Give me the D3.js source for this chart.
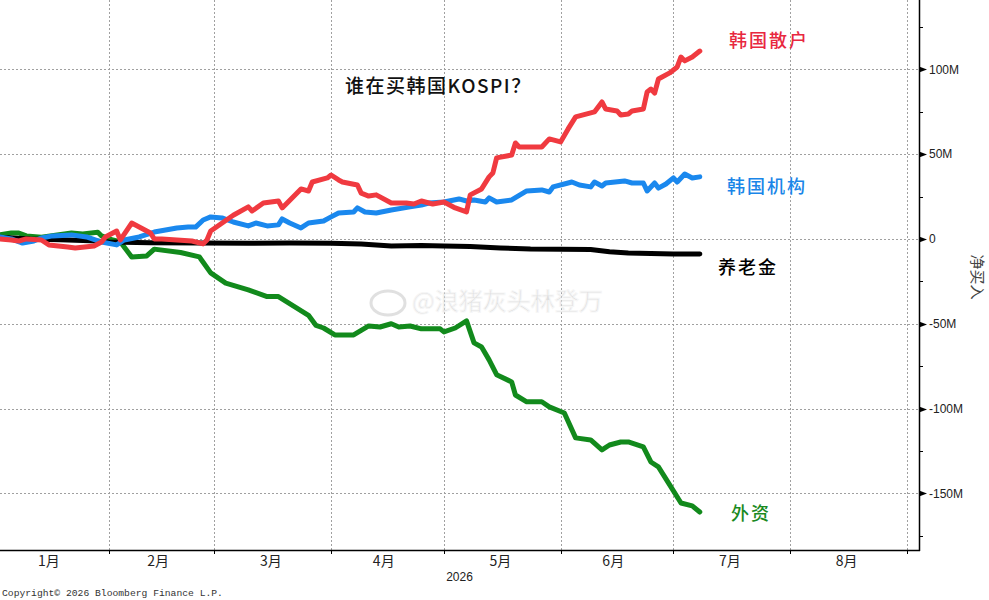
<!DOCTYPE html>
<html>
<head>
<meta charset="utf-8">
<script src="https://cdn.jsdelivr.net/npm/d3@7"></script>
<style>
  body { margin: 0; background: #fff; }
</style>
</head>
<body>
<div id="chart"></div>
<script>
// net buying of KOSPI stocks, millions
const retailDates = ['2026-01-03','2026-01-06','2026-01-08','2026-01-10','2026-01-14','2026-01-16','2026-01-21','2026-01-23','2026-01-28','2026-01-30','2026-01-31','2026-02-03','2026-02-04','2026-02-07','2026-02-10','2026-02-12','2026-02-13','2026-02-15','2026-02-23','2026-02-26','2026-02-27','2026-02-28','2026-03-06','2026-03-10','2026-03-11','2026-03-14','2026-03-18','2026-03-19','2026-03-24','2026-03-26','2026-03-27','2026-03-31','2026-04-01','2026-04-03','2026-04-04','2026-04-08','2026-04-09','2026-04-11','2026-04-13','2026-04-17','2026-04-21','2026-04-23','2026-04-25','2026-04-28','2026-05-01','2026-05-04','2026-05-07','2026-05-08','2026-05-11','2026-05-13','2026-05-14','2026-05-15','2026-05-19','2026-05-20','2026-05-21','2026-05-27','2026-05-29','2026-06-01','2026-06-03','2026-06-05','2026-06-10','2026-06-12','2026-06-13','2026-06-16','2026-06-17','2026-06-19','2026-06-20','2026-06-23','2026-06-24','2026-06-25','2026-06-26','2026-06-27','2026-06-30','2026-07-02','2026-07-03','2026-07-04','2026-07-06','2026-07-08'];
const retailValues = [0,-0.6,-1.2,0,-0.6,-3.5,-4.7,-5.3,-4.1,-1.8,1.2,4.7,-0.6,9.4,5.9,3.5,0,0,-1.2,-2.9,-0.6,4.7,14,18.9,16.5,21.2,22.4,18.3,29.5,28.3,33.6,36,37.7,34.8,33.6,31.8,27,25.3,26,21.2,21.2,20.6,22.4,20.6,21.8,18.3,16,26,29.5,36.6,38.9,47.8,49.5,56.6,54.2,54.2,59,57.2,64.9,72,74.9,80.8,76.6,75.5,73.1,73.7,75.5,76.6,86.7,88.4,86,94.3,97.9,101.4,107.3,105,107.3,110.8];

const instDates = ['2026-01-03','2026-01-06','2026-01-09','2026-01-12','2026-01-14','2026-01-17','2026-01-22','2026-01-26','2026-01-30','2026-02-03','2026-02-05','2026-02-09','2026-02-13','2026-02-19','2026-02-22','2026-02-24','2026-02-26','2026-02-28','2026-03-03','2026-03-06','2026-03-10','2026-03-12','2026-03-15','2026-03-18','2026-03-19','2026-03-21','2026-03-24','2026-03-26','2026-03-30','2026-04-01','2026-04-03','2026-04-05','2026-04-07','2026-04-08','2026-04-10','2026-04-13','2026-04-17','2026-04-22','2026-04-25','2026-04-27','2026-05-01','2026-05-05','2026-05-07','2026-05-09','2026-05-12','2026-05-13','2026-05-15','2026-05-19','2026-05-23','2026-05-27','2026-05-29','2026-05-30','2026-06-02','2026-06-04','2026-06-06','2026-06-09','2026-06-10','2026-06-12','2026-06-13','2026-06-18','2026-06-20','2026-06-23','2026-06-24','2026-06-26','2026-06-27','2026-06-29','2026-07-01','2026-07-02','2026-07-04','2026-07-06','2026-07-08'];
const instValues = [1.2,0,-2.4,-1.2,0.6,1.8,2.4,1.2,-1.8,-3.5,-0.6,1.2,4.1,6.5,7,7,11.2,13,12.4,10,7.7,9.4,7.7,8.3,11.8,9.4,6.5,9.4,10.6,13,15.3,15.6,15.9,18.3,15.9,15.3,17.1,18.9,20,21.2,21.8,23.6,22.4,23,21.8,24.2,21.8,23,28.3,28.9,27.7,30.7,32.4,33.6,31.8,30.7,33.6,31.2,33,34.2,33,33,28.3,33,30,32.4,36,33.6,38.3,36,36.6];

const pensionDates = ['2026-01-03','2026-01-11','2026-01-19','2026-01-27','2026-02-01','2026-02-12','2026-02-25','2026-03-10','2026-03-21','2026-04-01','2026-04-09','2026-04-17','2026-04-25','2026-05-01','2026-05-08','2026-05-16','2026-05-24','2026-06-01','2026-06-09','2026-06-14','2026-06-19','2026-07-01','2026-07-08'];
const pensionValues = [1,0,-0.5,-1,-1.8,-2.2,-2.4,-2.6,-2.4,-2.6,-3,-4.2,-3.8,-4.2,-4.5,-5.3,-5.9,-6,-6.2,-7.5,-8.3,-8.8,-8.8];

const foreignDates = ['2026-01-03','2026-01-06','2026-01-08','2026-01-10','2026-01-14','2026-01-22','2026-01-25','2026-01-29','2026-01-30','2026-02-02','2026-02-04','2026-02-07','2026-02-11','2026-02-13','2026-02-20','2026-02-25','2026-02-28','2026-03-04','2026-03-10','2026-03-15','2026-03-18','2026-03-26','2026-03-28','2026-03-30','2026-04-02','2026-04-07','2026-04-11','2026-04-14','2026-04-17','2026-04-19','2026-04-22','2026-04-25','2026-04-30','2026-05-01','2026-05-04','2026-05-07','2026-05-09','2026-05-11','2026-05-13','2026-05-15','2026-05-19','2026-05-20','2026-05-23','2026-05-27','2026-05-29','2026-06-02','2026-06-05','2026-06-09','2026-06-12','2026-06-14','2026-06-17','2026-06-19','2026-06-23','2026-06-25','2026-06-27','2026-06-30','2026-07-03','2026-07-06','2026-07-08'];
const foreignValues = [2.4,3.5,3.5,1.8,1,3.5,3,4,1.8,-0.6,-1.8,-10.6,-10,-6,-8,-10.6,-20,-26,-30,-34,-34,-45,-51,-52.5,-56.6,-56.6,-51.3,-51.9,-50,-51.9,-51.3,-53,-53,-54.8,-52.5,-48.3,-61.3,-63.7,-71.3,-80,-84.3,-92,-96,-96,-99,-102.6,-117.3,-118.5,-124.4,-121.5,-119.7,-119.7,-122.6,-131.5,-134.4,-145,-155.7,-157.4,-161];

const monthStarts = ['2026-02-01','2026-03-01','2026-04-01','2026-05-01','2026-06-01','2026-07-01','2026-08-01','2026-09-01'];
const monthMids = ['2026-01-16','2026-02-14','2026-03-16','2026-04-15','2026-05-16','2026-06-15','2026-07-16','2026-08-16'];
const monthLabels = ['1月','2月','3月','4月','5月','6月','7月','8月'];
const yMajorTicks = [100, 50, 0, -50, -100, -150];
const yMinorTicks = [125, 75, 25, -25, -75, -125, -175];

const parse = d3.timeParse('%Y-%m-%d');

const series = [
  { name: '外资', dates: foreignDates, values: foreignValues, color: '#128a1c', labelColor: '#1a8a1e', label: [731, 520] },
  { name: '养老金', dates: pensionDates, values: pensionValues, color: '#000000', labelColor: '#000000', label: [718, 274] },
  { name: '韩国机构', dates: instDates, values: instValues, color: '#1a88ee', labelColor: '#1a86e8', label: [727, 193] },
  { name: '韩国散户', dates: retailDates, values: retailValues, color: '#f03a40', labelColor: '#e8283f', label: [729, 47] },
];

const width = 989;
const height = 600;
const plotRight = 919;
const plotBottom = 550;

const svg = d3
  .select('#chart')
  .append('svg')
  .attr('width', width)
  .attr('height', height)
  .style('font-family', 'Liberation Sans, Arial, sans-serif');

const x = d3
  .scaleTime()
  .domain([parse('2026-01-03'), parse('2026-09-04')])
  .range([0, plotRight - 1]);

const y = d3.scaleLinear().domain([-183.4, 140.9]).range([plotBottom, 0]);

// grid
const grid = svg.append('g').attr('stroke', '#a0a0a0').attr('stroke-dasharray', '2,2').attr('stroke-width', 1);
grid
  .selectAll('line.h')
  .data(yMajorTicks)
  .join('line')
  .attr('x1', 0)
  .attr('x2', plotRight)
  .attr('y1', (d) => Math.round(y(d)) + 0.5)
  .attr('y2', (d) => Math.round(y(d)) + 0.5);
grid
  .selectAll('line.v')
  .data(monthStarts)
  .join('line')
  .attr('x1', (d) => Math.round(x(parse(d))) + 0.5)
  .attr('x2', (d) => Math.round(x(parse(d))) + 0.5)
  .attr('y1', 0)
  .attr('y2', plotBottom);

// watermark
const wm = svg.append('g').attr('opacity', 0.55);
wm.append('ellipse').attr('cx', 388).attr('cy', 303).attr('rx', 17).attr('ry', 12).attr('fill', 'none').attr('stroke', '#c8c8c8').attr('stroke-width', 3);
wm.append('text')
  .attr('x', 412)
  .attr('y', 310)
  .attr('font-family', 'Noto Sans CJK SC')
  .attr('font-size', 24)
  .attr('fill', '#c4c4c4')
  .attr('stroke', '#f0f0f0')
  .attr('stroke-width', 1)
  .text('@浪猪灰头林登万');

// lines
const line = d3
  .line()
  .x((d) => x(d.date))
  .y((d) => y(d.value));

series.forEach((s) => {
  const data = s.dates.map((d, i) => ({ date: parse(d), value: s.values[i] }));
  svg
    .append('path')
    .datum(data)
    .attr('fill', 'none')
    .attr('stroke', s.color)
    .attr('stroke-width', 5)
    .attr('stroke-linejoin', 'round')
    .attr('stroke-linecap', 'round')
    .attr('d', line);

  svg
    .append('text')
    .attr('x', s.label[0])
    .attr('y', s.label[1])
    .attr('font-family', 'Noto Sans CJK SC')
    .attr('font-size', 18)
    .attr('font-weight', 500)
    .attr('letter-spacing', 2)
    .attr('fill', s.labelColor)
    .text(s.name);
});

// title
svg
  .append('text')
  .attr('x', 345)
  .attr('y', 93)
  .attr('font-family', 'Noto Sans CJK SC')
  .attr('font-size', 19)
  .attr('font-weight', 500)
  .attr('letter-spacing', 1.5)
  .attr('fill', '#111')
  .text('谁在买韩国KOSPI？');

// right axis
const yAxis = svg.append('g');
yAxis
  .append('line')
  .attr('x1', plotRight + 0.5)
  .attr('x2', plotRight + 0.5)
  .attr('y1', 0)
  .attr('y2', plotBottom + 1)
  .attr('stroke', '#000')
  .attr('stroke-width', 1.5);
yAxis
  .selectAll('line.minor')
  .data(yMinorTicks)
  .join('line')
  .attr('x1', plotRight)
  .attr('x2', plotRight + 4)
  .attr('y1', (d) => Math.round(y(d)) + 0.5)
  .attr('y2', (d) => Math.round(y(d)) + 0.5)
  .attr('stroke', '#000');
yAxis
  .selectAll('path.major')
  .data(yMajorTicks)
  .join('path')
  .attr('d', (d) => {
    const ty = Math.round(y(d)) + 0.5;
    return `M${plotRight},${ty - 3}L${plotRight + 8},${ty}L${plotRight},${ty + 3}Z`;
  })
  .attr('fill', '#000');
yAxis
  .selectAll('text')
  .data(yMajorTicks)
  .join('text')
  .attr('x', plotRight + 10)
  .attr('y', (d) => y(d))
  .attr('dy', '0.35em')
  .attr('font-size', 12)
  .attr('fill', '#222')
  .text((d) => (d === 0 ? '0' : d < 0 ? `-${-d}M` : `${d}M`));

svg
  .append('text')
  .attr('transform', `translate(972,277) rotate(90)`)
  .attr('text-anchor', 'middle')
  .attr('font-family', 'Noto Sans CJK SC')
  .attr('font-size', 15)
  .attr('fill', '#444')
  .text('净买入');

// bottom axis
const xAxis = svg.append('g');
xAxis
  .append('line')
  .attr('x1', 0)
  .attr('x2', plotRight + 1)
  .attr('y1', plotBottom + 0.5)
  .attr('y2', plotBottom + 0.5)
  .attr('stroke', '#000')
  .attr('stroke-width', 1.5);
xAxis
  .selectAll('line.tick')
  .data(monthStarts)
  .join('line')
  .attr('x1', (d) => Math.round(x(parse(d))) + 0.5)
  .attr('x2', (d) => Math.round(x(parse(d))) + 0.5)
  .attr('y1', plotBottom)
  .attr('y2', plotBottom + 4)
  .attr('stroke', '#000');
xAxis
  .selectAll('text.month')
  .data(monthMids)
  .join('text')
  .attr('x', (d) => x(parse(d)))
  .attr('y', 566)
  .attr('text-anchor', 'middle')
  .attr('font-family', 'Noto Sans CJK SC')
  .attr('font-size', 14)
  .attr('fill', '#222')
  .text((d, i) => monthLabels[i]);
xAxis
  .append('text')
  .attr('x', plotRight / 2)
  .attr('y', 581)
  .attr('text-anchor', 'middle')
  .attr('font-size', 12)
  .attr('fill', '#222')
  .text('2026');

svg
  .append('text')
  .attr('x', 2)
  .attr('y', 596)
  .attr('font-family', 'Liberation Mono, monospace')
  .attr('font-size', 9.7)
  .attr('fill', '#333')
  .text('Copyright© 2026 Bloomberg Finance L.P.');
</script>
</body>
</html>
